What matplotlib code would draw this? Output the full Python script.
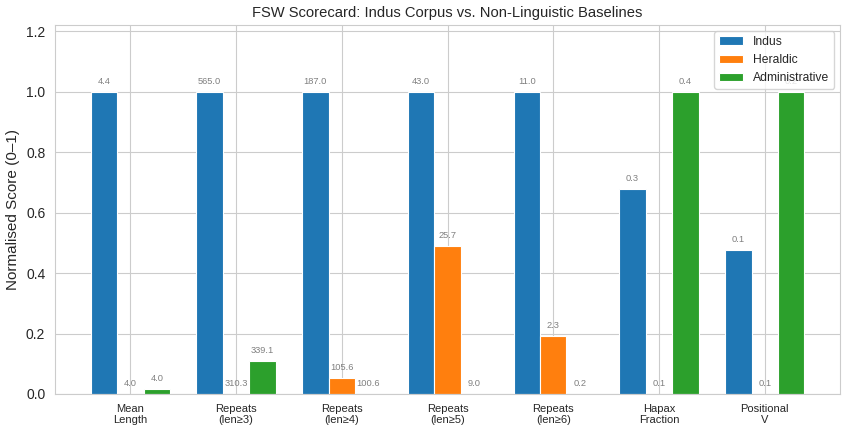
import numpy as np
import matplotlib
matplotlib.use("Agg")
import matplotlib.pyplot as plt
import seaborn as sns

sns.set_style("whitegrid")
plt.rcParams['font.family'] = ['Liberation Sans', 'DejaVu Sans']

categories = ["Mean\nLength", "Repeats\n(len≥3)", "Repeats\n(len≥4)", "Repeats\n(len≥5)",
              "Repeats\n(len≥6)", "Hapax\nFraction", "Positional\nV"]

# normalised scores (bar heights)
indus_norm = [1.0, 1.0, 1.0, 1.0, 1.0, 0.678, 0.476]
heraldic_norm = [0.0, 0.0, 0.054, 0.49, 0.193, 0.0, 0.0]
admin_norm = [0.015, 0.109, 0.0, 0.0, 0.0, 1.0, 1.0]

# raw values printed above bars
indus_raw = [4.4, 565.0, 187.0, 43.0, 11.0, 0.3, 0.1]
heraldic_raw = [4.0, 310.3, 105.6, 25.7, 2.3, 0.1, 0.1]
admin_raw = [4.0, 339.1, 100.6, 9.0, 0.2, 0.4, 0.2]

series = [
    ("Indus", indus_norm, indus_raw, "#1f77b4"),
    ("Heraldic", heraldic_norm, heraldic_raw, "#ff7f0e"),
    ("Administrative", admin_norm, admin_raw, "#2ca02c"),
]

fig, ax = plt.subplots(figsize=(8.46, 4.32), dpi=100)
x = np.arange(len(categories))
width = 0.25

for i, (name, norm, raw, color) in enumerate(series):
    pos = x + (i - 1) * width
    bars = ax.bar(pos, norm, width, label=name, color=color, edgecolor="white", linewidth=0.8)
    for b, r in zip(bars, raw):
        ax.text(b.get_x() + b.get_width() / 2, b.get_height() + 0.02, f"{r:.1f}",
                ha="center", va="bottom", fontsize=6.7, color="grey")

ax.set_xticks(x)
ax.set_xticklabels(categories, fontsize=8)
ax.set_ylim(0, 1.22)
ax.tick_params(axis="y", labelsize=10)
ax.set_ylabel("Normalised Score (0–1)", fontsize=11)
ax.set_title("FSW Scorecard: Indus Corpus vs. Non-Linguistic Baselines", fontsize=10.6)
ax.legend(loc="upper right", fontsize=8.7)

fig.subplots_adjust(left=0.065, right=0.993, top=0.942, bottom=0.088)
fig.savefig("out.png")
